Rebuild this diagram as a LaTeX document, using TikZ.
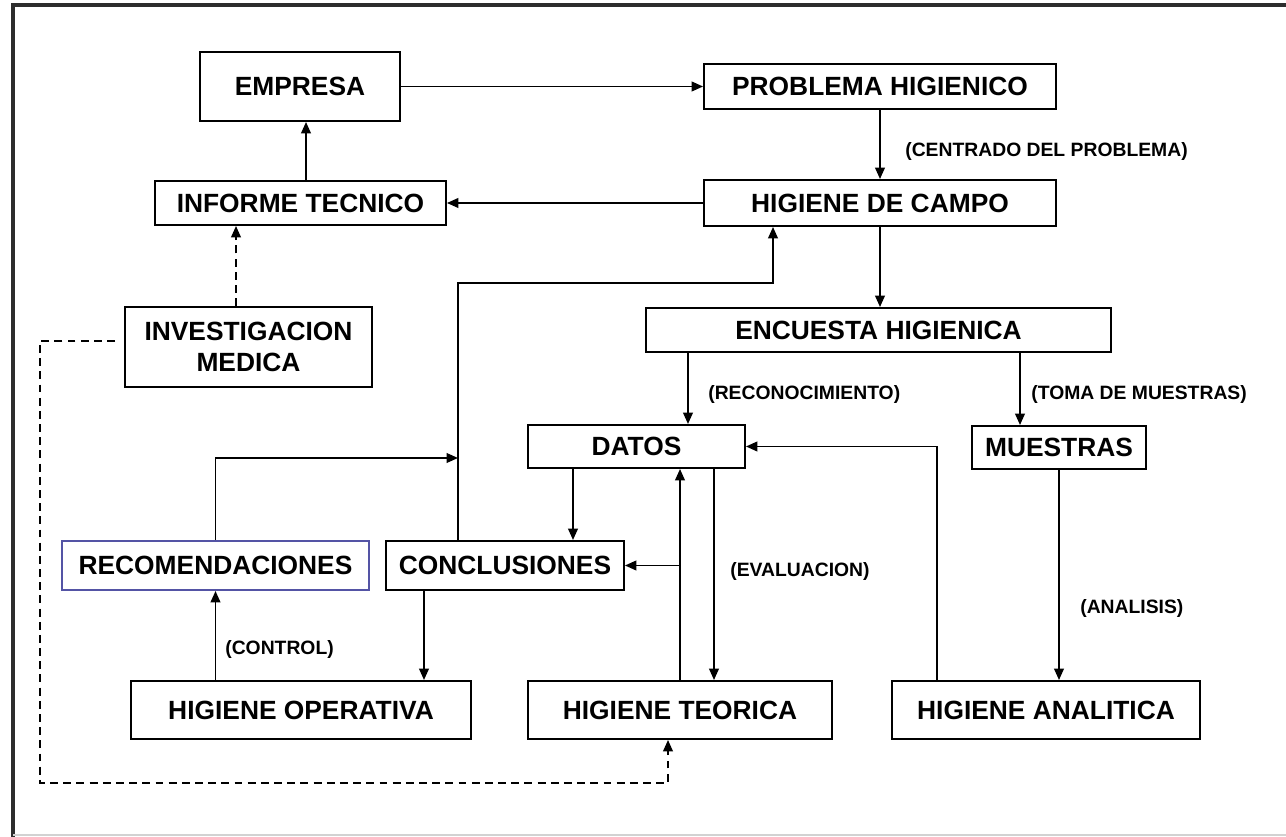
\documentclass[tikz,border=0pt]{standalone}
\usepackage{fontspec}
\setmainfont{Liberation Sans}
\usetikzlibrary{arrows.meta}
\definecolor{recblue}{RGB}{84,84,165}
\definecolor{framegray}{RGB}{45,45,45}

\begin{document}
\begin{tikzpicture}[x=0.02cm,y=-0.02cm,
  caja/.style={draw,line width=1.1pt,inner sep=0pt,align=center,font=\fontsize{15}{18}\selectfont\bfseries},
  etiq/.style={inner sep=0pt,anchor=west,font=\fontsize{11}{13}\selectfont\bfseries},
  flecha/.style={line width=1.1pt,-{Triangle[length=6.5pt,width=5.5pt]}},
  rayas/.style={flecha,dash pattern=on 4.5pt off 3pt}]
\useasboundingbox (0,0) rectangle (1286,837);
\draw[framegray,line width=1.8pt] (13,837) -- (13,5) -- (1286,5);
\draw[gray!35,line width=1pt] (13,835) -- (1286,835);

\node[caja,minimum width=4cm,minimum height=1.38cm] (empresa) at (300,86.5) {EMPRESA};
\node[caja,minimum width=7.04cm,minimum height=0.9cm] (problema) at (880,86.5) {PROBLEMA HIGIENICO};
\node[caja,minimum width=5.82cm,minimum height=0.88cm] (informe) at (300.5,203) {INFORME TECNICO};
\node[caja,minimum width=7.04cm,minimum height=0.92cm] (campo) at (880,203) {HIGIENE DE CAMPO};
\node[caja,minimum width=4.94cm,minimum height=1.6cm] (investigacion) at (248.5,347) {INVESTIGACION\\MEDICA};
\node[caja,minimum width=9.3cm,minimum height=0.88cm] (encuesta) at (878.5,330) {ENCUESTA HIGIENICA};
\node[caja,minimum width=4.34cm,minimum height=0.86cm] (datos) at (636.5,446.5) {DATOS};
\node[caja,minimum width=3.48cm,minimum height=0.86cm] (muestras) at (1059,447.5) {MUESTRAS};
\node[caja,draw=recblue,minimum width=6.14cm,minimum height=0.98cm] (recomendaciones) at (215.5,565.5) {RECOMENDACIONES};
\node[caja,minimum width=4.76cm,minimum height=0.98cm] (conclusiones) at (505,565.5) {CONCLUSIONES};
\node[caja,minimum width=6.8cm,minimum height=1.16cm] (operativa) at (301,710) {HIGIENE OPERATIVA};
\node[caja,minimum width=6.08cm,minimum height=1.16cm] (teorica) at (680,710) {HIGIENE TEORICA};
\node[caja,minimum width=6.16cm,minimum height=1.16cm] (analitica) at (1046,710) {HIGIENE ANALITICA};

\node[etiq] (lcentrado) at (905,152) {(CENTRADO DEL PROBLEMA)};
\node[etiq] (lreconoc) at (708,395) {(RECONOCIMIENTO)};
\node[etiq] (ltoma) at (1031,395) {(TOMA DE MUESTRAS)};
\node[etiq] (levaluacion) at (730,572) {(EVALUACION)};
\node[etiq] (lanalisis) at (1080,609) {(ANALISIS)};
\node[etiq] (lcontrol) at (225,650) {(CONTROL)};

\coordinate (xempresa) at (306,0);
\coordinate (xreco) at (688,0);
\coordinate (xtoma) at (1020,0);
\coordinate (xdatos) at (573,0);
\coordinate (xeval) at (714,0);
\coordinate (xvuelta) at (937,0);
\coordinate (xoper) at (424,0);
\coordinate (xinv) at (236,0);
\coordinate (lazo) at (773,283);
\coordinate (union) at (458,458);
\coordinate (dinicio) at (115,341);
\coordinate (desq) at (40,783);
\coordinate (dfin) at (668,783);

\draw[flecha] (empresa.east) -- (problema.west);
\draw[flecha] (informe.north -| xempresa) -- (empresa.south -| xempresa);
\draw[flecha] (problema.south) -- (campo.north);
\draw[flecha] (campo.west) -- (informe.east);
\draw[flecha] (campo.south) -- (campo.south |- encuesta.north);
\draw[flecha] (encuesta.south -| xreco) -- (datos.north -| xreco);
\draw[flecha] (encuesta.south -| xtoma) -- (muestras.north -| xtoma);
\draw[flecha] (muestras.south) -- (muestras.south |- analitica.north);
\draw[flecha] (analitica.north -| xvuelta) |- (datos.east);
\draw[flecha] (datos.south -| xdatos) -- (conclusiones.north -| xdatos);
\draw[flecha] (datos.south -| xeval) -- (teorica.north -| xeval);
\draw[flecha] (teorica.north) -- (datos.south -| teorica.north);
\draw[flecha] (teorica.north |- conclusiones.east) -- (conclusiones.east);
\draw[flecha] (conclusiones.north -| union) |- (lazo) -- (campo.south -| lazo);
\draw[flecha] (recomendaciones.north) |- (union);
\draw[flecha] (operativa.north -| recomendaciones.south) -- (recomendaciones.south);
\draw[flecha] (conclusiones.south -| xoper) -- (operativa.north -| xoper);
\draw[rayas] (investigacion.north -| xinv) -- (informe.south -| xinv);
\draw[rayas] (dinicio) -| (desq) -- (dfin) -- (teorica.south -| dfin);
\end{tikzpicture}
\end{document}
